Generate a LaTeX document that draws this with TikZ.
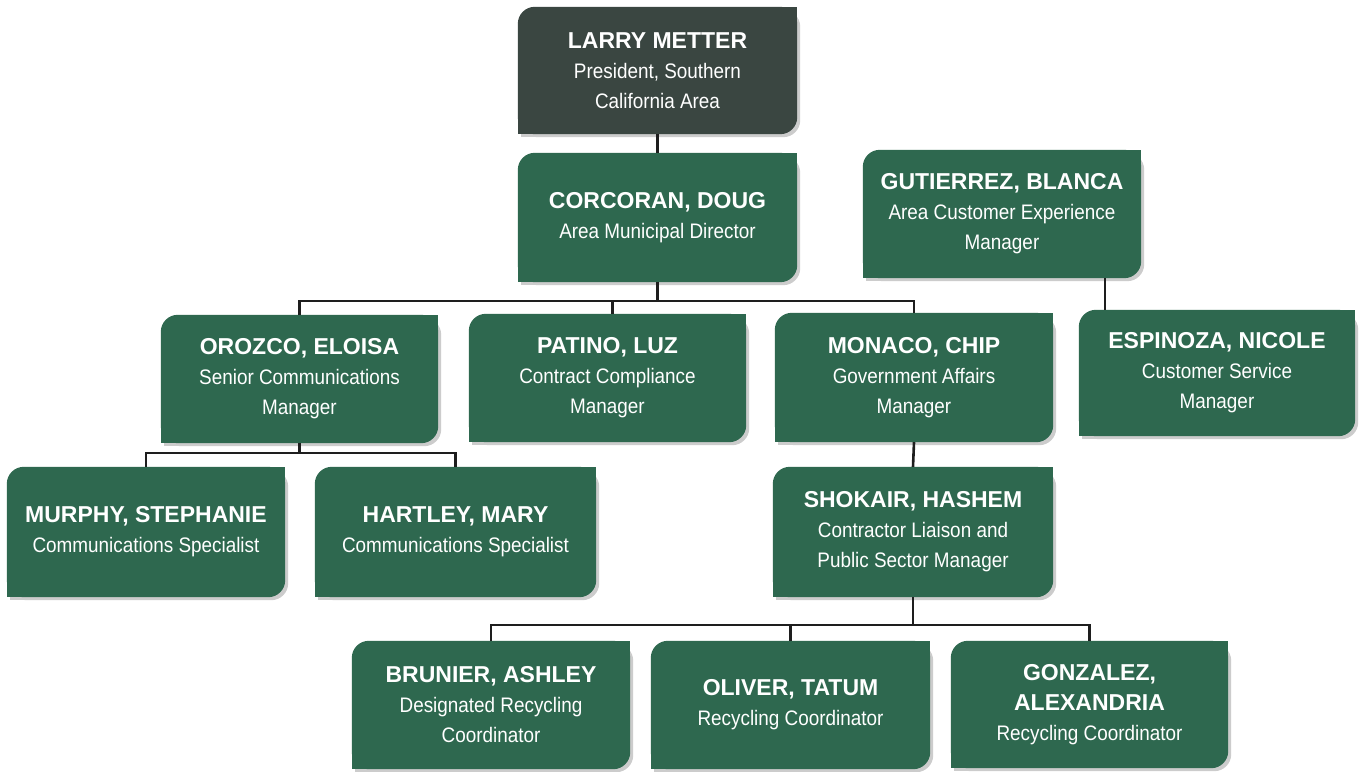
\documentclass[tikz,border=0pt]{standalone}
\usepackage{fontspec}
\setmainfont{Liberation Sans}
\newfontfamily\titlefont[FakeStretch=0.9]{Liberation Sans}
\newfontfamily\namefont{Liberation Sans}
\usetikzlibrary{backgrounds,calc}
\definecolor{boxgreen}{RGB}{46,104,79}
\definecolor{boxdark}{RGB}{58,70,65}
\definecolor{linecol}{RGB}{30,30,30}
\newcommand{\nm}[1]{{\namefont\bfseries\fontsize{23}{30}\selectfont #1}}
\tikzset{
  box/.style={inner sep=0pt, align=center, text=white,
    font=\titlefont\fontsize{21}{30}\selectfont},
  conn/.style={draw=linecol, line width=2.6pt}
}
\newcommand{\boxfill}[2]{%
  \fill[black!20, rounded corners=17pt] ($(#1.south west)+(3,-3)$) rectangle ($(#1.north east)+(3,-3)$);
  \fill[black!20] ($(#1.south west)+(3,-3)$) rectangle ($(#1.south west)+(27,21)$);
  \fill[#2, rounded corners=17pt] (#1.south west) rectangle (#1.north east);
  \fill[#2] (#1.south west) rectangle ($(#1.south west)+(24,24)$);
  \fill[#2] (#1.north east) rectangle ($(#1.north east)+(-24,-24)$);}
\begin{document}
\begin{tikzpicture}[x=1pt,y=1pt]
\useasboundingbox (0,0) rectangle (1359,-771);

\node[box, minimum width=279pt, minimum height=127pt] (larry) at (657.5,-70.5)
  {\nm{LARRY METTER}\\President, Southern\\California Area};
\node[box, minimum width=279pt, minimum height=129pt] (corcoran) at (657.5,-217.5)
  {\nm{CORCORAN, DOUG}\\Area Municipal Director};
\node[box, minimum width=278pt, minimum height=128pt] (gutierrez) at (1002,-214)
  {\nm{GUTIERREZ, BLANCA}\\Area Customer Experience\\Manager};
\node[box, minimum width=277pt, minimum height=128pt] (orozco) at (299.5,-379)
  {\nm{OROZCO, ELOISA}\\Senior Communications\\Manager};
\node[box, minimum width=277pt, minimum height=128pt] (patino) at (607.5,-378)
  {\nm{PATINO, LUZ}\\Contract Compliance\\Manager};
\node[box, minimum width=278pt, minimum height=129pt] (monaco) at (914,-377.5)
  {\nm{MONACO, CHIP}\\Government Affairs\\Manager};
\node[box, minimum width=276pt, minimum height=126pt] (espinoza) at (1217,-373)
  {\nm{ESPINOZA, NICOLE}\\Customer Service\\Manager};
\node[box, minimum width=278pt, minimum height=130pt] (murphy) at (146,-532)
  {\nm{MURPHY, STEPHANIE}\\Communications Specialist};
\node[box, minimum width=281pt, minimum height=130pt] (hartley) at (455.5,-532)
  {\nm{HARTLEY, MARY}\\Communications Specialist};
\node[box, minimum width=280pt, minimum height=130pt] (shokair) at (913,-532)
  {\nm{SHOKAIR, HASHEM}\\Contractor Liaison and\\Public Sector Manager};
\node[box, minimum width=278pt, minimum height=128pt] (brunier) at (491,-705)
  {\nm{BRUNIER, ASHLEY}\\Designated Recycling\\Coordinator};
\node[box, minimum width=279pt, minimum height=128pt] (oliver) at (790.5,-705)
  {\nm{OLIVER, TATUM}\\Recycling Coordinator};
\node[box, minimum width=277pt, minimum height=127pt] (gonzalez) at (1089.5,-704.5)
  {\nm{GONZALEZ,}\\\nm{ALEXANDRIA}\\Recycling Coordinator};

\coordinate (bus1) at (0,-301);
\coordinate (bus2) at (0,-453);
\coordinate (bus3) at (0,-625);

\begin{scope}[on background layer]
  \fill[white] (0,0) rectangle (1359,-771);
  \boxfill{larry}{boxdark}
  \foreach \n in {corcoran,gutierrez,orozco,patino,monaco,espinoza,murphy,hartley,shokair,brunier,oliver,gonzalez}
    {\boxfill{\n}{boxgreen}}
  % connectors
  \draw[conn] (larry.south) -- (corcoran.north);
  \draw[conn] (corcoran.south) -- (corcoran.south |- bus1);
  \draw[conn] (orozco.north) -- (orozco.north |- bus1) -- (monaco.north |- bus1) -- (monaco.north);
  \draw[conn] ([xshift=5pt]patino.north) -- ([xshift=5pt]patino.north |- bus1);
  \draw[conn] ([xshift=26pt]espinoza.north west) -- ([xshift=26pt]espinoza.north west |- gutierrez.south);
  \draw[conn] (orozco.south) -- (orozco.south |- bus2);
  \draw[conn] (murphy.north) -- (murphy.north |- bus2) -- (hartley.north |- bus2) -- (hartley.north);
  \draw[conn] (monaco.south) -- (shokair.north);
  \draw[conn] (shokair.south) -- (shokair.south |- bus3);
  \draw[conn] (brunier.north) -- (brunier.north |- bus3) -- (gonzalez.north |- bus3) -- (gonzalez.north);
  \draw[conn] (oliver.north) -- (oliver.north |- bus3);
\end{scope}
\end{tikzpicture}
\end{document}
